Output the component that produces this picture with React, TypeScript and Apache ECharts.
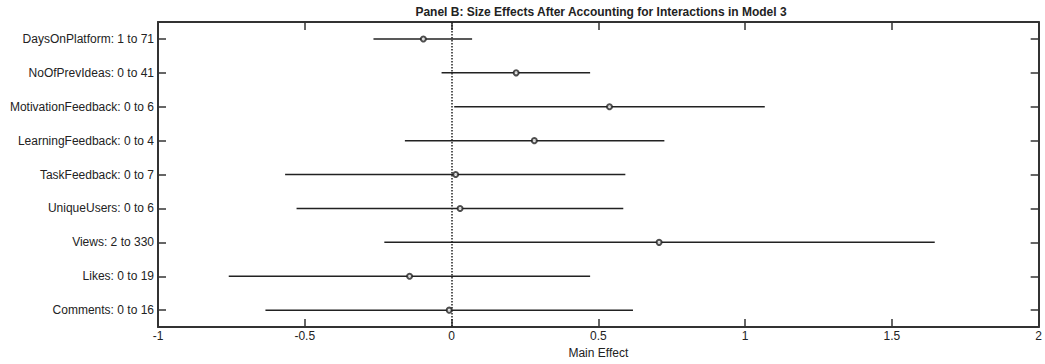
import React, { useEffect, useRef } from "react";
import * as echarts from "echarts";

const categories = [
  "DaysOnPlatform: 1 to 71",
  "NoOfPrevIdeas: 0 to 41",
  "MotivationFeedback: 0 to 6",
  "LearningFeedback: 0 to 4",
  "TaskFeedback: 0 to 7",
  "UniqueUsers: 0 to 6",
  "Views: 2 to 330",
  "Likes: 0 to 19",
  "Comments: 0 to 16",
];
const lowerBounds = [-0.266, -0.034, 0.009, -0.159, -0.567, -0.528, -0.229, -0.759, -0.634];
const upperBounds = [0.07, 0.472, 1.067, 0.725, 0.592, 0.585, 1.646, 0.472, 0.618];
const mainEffects = [-0.096, 0.22, 0.538, 0.282, 0.014, 0.029, 0.707, -0.143, -0.008];

const titleText = "Panel B: Size Effects After Accounting for Interactions in Model 3";
const xAxisName = "Main Effect";

const FONT = "'Liberation Sans', Arial, Helvetica, sans-serif";
const INK = "#222";
const AXIS = "#333";

export default function App() {
  const ref = useRef<HTMLDivElement>(null);
  useEffect(() => {
    if (!ref.current) return;
    const chart = echarts.init(ref.current, undefined, { renderer: "svg" });
    const axisLine = { show: true, onZero: false, lineStyle: { color: AXIS, width: 2 } };
    const tick = { show: true, inside: true, length: 8, lineStyle: { color: AXIS, width: 1.5 } };
    chart.setOption({
      animation: false,
      backgroundColor: "#fff",
      graphic: [
        {
          type: "text",
          x: 601,
          y: 12,
          silent: true,
          style: {
            text: titleText,
            align: "center",
            verticalAlign: "middle",
            fontFamily: FONT,
            fontSize: 12,
            fontWeight: "bold",
            fill: INK,
          },
        },
      ],
      grid: { left: 158, right: 1, top: 22, bottom: 31, containLabel: false },
      xAxis: [
        {
          type: "value",
          min: -1,
          max: 2,
          interval: 0.5,
          position: "bottom",
          name: xAxisName,
          nameLocation: "middle",
          nameGap: 14,
          nameTextStyle: { fontFamily: FONT, fontSize: 12, color: INK },
          axisLine,
          axisTick: tick,
          splitLine: { show: false },
          axisLabel: { fontFamily: FONT, fontSize: 12, color: INK, margin: 3 },
        },
        {
          type: "value",
          min: -1,
          max: 2,
          interval: 0.5,
          position: "top",
          axisLine,
          axisTick: tick,
          splitLine: { show: false },
          axisLabel: { show: false },
        },
      ],
      yAxis: [
        {
          type: "category",
          data: categories,
          inverse: true,
          position: "left",
          axisLine,
          axisTick: { ...tick, alignWithLabel: true },
          splitLine: { show: false },
          axisLabel: { fontFamily: FONT, fontSize: 12, color: INK, margin: 4 },
        },
        {
          type: "category",
          data: categories,
          inverse: true,
          position: "right",
          axisLine,
          axisTick: { ...tick, alignWithLabel: true },
          splitLine: { show: false },
          axisLabel: { show: false },
        },
      ],
      series: [
        {
          type: "custom",
          xAxisIndex: 0,
          yAxisIndex: 0,
          encode: { x: [0, 1], y: 2 },
          data: lowerBounds.map((lo, i) => [lo, upperBounds[i], i]),
          renderItem: (params: any, api: any) => {
            const y = api.value(2);
            const p1 = api.coord([api.value(0), y]);
            const p2 = api.coord([api.value(1), y]);
            return {
              type: "line",
              shape: { x1: p1[0], y1: p1[1], x2: p2[0], y2: p2[1] },
              style: { stroke: INK, lineWidth: 1.5 },
            };
          },
          z: 2,
        },
        {
          type: "scatter",
          xAxisIndex: 0,
          yAxisIndex: 0,
          symbol: "emptyCircle",
          symbolSize: 5,
          itemStyle: { color: INK, borderColor: INK, borderWidth: 1.5 },
          data: mainEffects.map((v, i) => [v, i]),
          markLine: {
            silent: true,
            symbol: "none",
            label: { show: false },
            lineStyle: { color: INK, width: 1.5, type: [1.5, 1.5] },
            data: [{ xAxis: 0 }],
          },
          z: 3,
        },
      ],
    });
    return () => chart.dispose();
  }, []);
  return (
    <div
      ref={ref}
      style={{ position: "fixed", left: 0, top: 0, width: 1045, height: 364, background: "#fff" }}
    />
  );
}
